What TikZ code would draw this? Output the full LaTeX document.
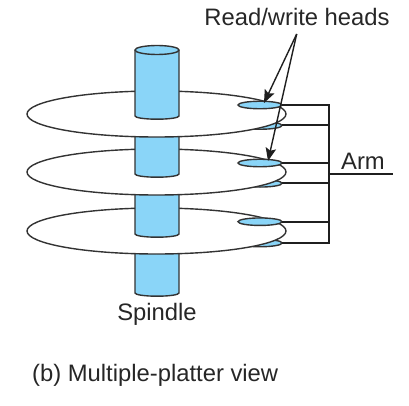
\documentclass[tikz,border=0pt]{standalone}
\usepackage{fontspec}
\setmainfont{Liberation Sans}
\usetikzlibrary{arrows.meta, positioning, shapes.geometric, calc}
\definecolor{spinblue}{HTML}{8AD5F8}
\definecolor{inkgray}{HTML}{333333}

\begin{document}
\begin{tikzpicture}[
      x=1pt, y=-1pt,
      platter/.style={ellipse, draw=inkgray, fill=white, line width=1.4pt, inner sep=0pt, outer sep=0pt, minimum width=259pt, minimum height=46pt},
      headpad/.style={ellipse, draw=inkgray, fill=spinblue, line width=1.4pt, inner sep=0pt, outer sep=0pt, minimum width=44pt, minimum height=7.5pt},
      spinseg/.style={draw=inkgray, fill=spinblue, line width=1.4pt},
      armline/.style={draw=inkgray!60!black, line width=2pt},
      pointer/.style={draw=inkgray!60!black, line width=1.4pt, -{Stealth[length=13pt, width=10.5pt, inset=2.5pt]}},
      label/.style={font=\fontsize{23.8}{26}\selectfont, text=black!85, inner sep=0pt}
    ]
      \useasboundingbox (0,0) rectangle (409,406);
      % platters from the bottom up
      \foreach \pl/\py/\pb/\pu/\pd in {c/231/293/221.7/243, b/172/234/163/183.3, a/114/174/105/125.5} {
        \draw[spinseg] (135,\py+20) -- (135,\pb) arc[start angle=180, end angle=0, x radius=22, y radius=3.2] -- (179,\py+20) -- cycle;
        \node[headpad] (headl\pl) at (260,\pd) {};
        \node[platter] (plat\pl) at (156.5,\py) {};
        \node[headpad] (headu\pl) at (260,\pu) {};
      }
      % top of the spindle
      \draw[spinseg] (135,50) -- (135,116) arc[start angle=180, end angle=0, x radius=22, y radius=3.2] -- (179,50);
      \node[ellipse, draw=inkgray, fill=spinblue, line width=1.4pt, inner sep=0pt, outer sep=0pt, minimum width=44pt, minimum height=9pt] (spintop) at (157,50) {};

      % arm
      \coordinate (armjoin) at (329,173.5);
      \coordinate (armend) at (393,173.5);
      \coordinate (armbot) at (329,243);
      \draw[armline] (headua.east) -| (armbot) -- (headlc.east);
      \foreach \hd in {headla, headub, headlb, headuc}
        \draw[armline] (\hd.east) -- (\hd.east -| armbot);
      \draw[armline] (armjoin) -- (armend);

      % labels
      \node[label] (rwlabel) at (297,17) {Read/write heads};
      \node[label, above=4pt of armend, xshift=-30pt] (armlabel) {Arm};
      \node[label] (spinlabel) at (157,314) {Spindle};
      \node[label, anchor=base west] (caption) at (32,381) {(b) Multiple-platter view};

      \coordinate (fork) at (296.7,34);
      \draw[pointer] (fork) -- (264,103);
      \draw[pointer] (fork) -- (268,161);
    \end{tikzpicture}
\end{document}
